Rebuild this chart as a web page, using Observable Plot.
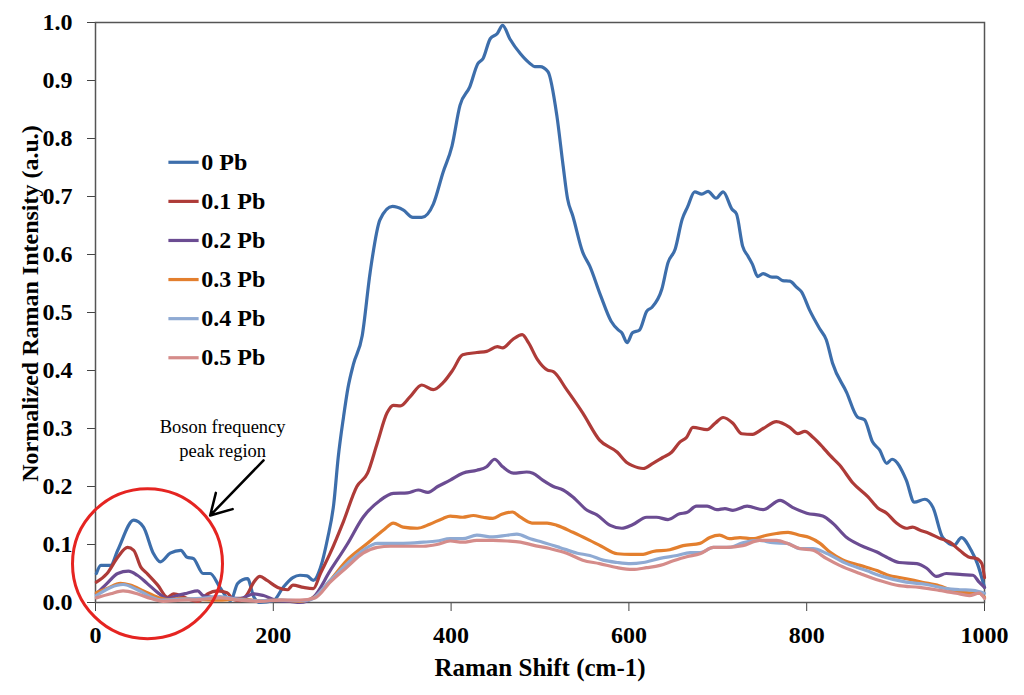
<!DOCTYPE html>
<html><head><meta charset="utf-8">
<script src="https://cdn.jsdelivr.net/npm/d3@7"></script>
<script src="https://cdn.jsdelivr.net/npm/@observablehq/plot@0.6"></script>
<style>body{margin:0;background:#fff}#chart{width:1024px;height:695px}</style>
</head><body><div id="chart"></div>
<script>
const names = ["0 Pb","0.1 Pb","0.2 Pb","0.3 Pb","0.4 Pb","0.5 Pb"];
const colors = ["#3D6EAB","#AE3B38","#6B4C92","#E37F2E","#8FAAD3","#D58C8A"];
const xTicks = [0,200,400,600,800,1000];
const yTicks = [0,0.1,0.2,0.3,0.4,0.5,0.6,0.7,0.8,0.9,1.0];
const xTitle = "Raman Shift (cm-1)";
const yTitle = "Normalized Raman Intensity (a.u.)";
const noteText = "Boson frequency\npeak region";

const pb0 = [[1,0.05],[6,0.064],[17,0.064],[25,0.09],[43,0.142],[54,0.13],[65,0.085],[73,0.07],[84,0.085],[96,0.09],[103,0.078],[110,0.076],[121,0.05],[129,0.05],[140,0.026],[152,0.003],[160,0.033],[171,0.041],[178,0.01],[185,0.0],[200,0.003],[211,0.026],[222,0.043],[230,0.047],[238,0.046],[245,0.038],[253,0.06],[261,0.11],[268,0.17],[273,0.25],[279,0.32],[284,0.37],[290,0.41],[300,0.46],[309,0.57],[320,0.66],[334,0.683],[346,0.677],[357,0.664],[367,0.664],[380,0.687],[391,0.742],[401,0.787],[410,0.857],[421,0.889],[430,0.929],[436,0.938],[444,0.972],[452,0.981],[458,0.995],[466,0.972],[478,0.946],[489,0.929],[494,0.924],[500,0.924],[509,0.915],[519,0.839],[526,0.753],[531,0.696],[537,0.666],[548,0.604],[556,0.58],[568,0.53],[580,0.485],[588,0.47],[592,0.465],[598,0.448],[604,0.465],[612,0.47],[620,0.502],[626,0.509],[637,0.54],[644,0.586],[652,0.609],[660,0.661],[666,0.682],[674,0.708],[682,0.704],[689,0.709],[698,0.697],[706,0.708],[716,0.678],[721,0.67],[728,0.614],[734,0.597],[739,0.583],[745,0.562],[751,0.567],[761,0.561],[766,0.561],[773,0.555],[781,0.554],[789,0.543],[794,0.536],[803,0.505],[815,0.471],[822,0.453],[829,0.413],[845,0.362],[857,0.32],[865,0.315],[874,0.277],[882,0.263],[890,0.24],[896,0.247],[912,0.211],[921,0.173],[933,0.178],[942,0.164],[953,0.112],[966,0.099],[974,0.112],[985,0.09],[992,0.067],[1000,0.026]];
const pb01 = [[1,0.035],[13,0.05],[25,0.078],[36,0.095],[43,0.09],[51,0.061],[58,0.05],[70,0.03],[81,0.009],[88,0.015],[96,0.012],[103,0.007],[115,0.002],[126,0.015],[137,0.02],[148,0.017],[155,0.005],[163,0.003],[171,0.015],[178,0.035],[185,0.045],[193,0.038],[205,0.026],[216,0.022],[222,0.03],[234,0.026],[245,0.024],[253,0.05],[264,0.085],[279,0.14],[294,0.2],[306,0.223],[317,0.275],[328,0.327],[335,0.34],[343,0.339],[354,0.355],[367,0.375],[380,0.367],[391,0.379],[402,0.401],[413,0.427],[429,0.431],[440,0.433],[452,0.441],[458,0.439],[469,0.453],[480,0.462],[487,0.448],[497,0.419],[508,0.401],[515,0.398],[530,0.367],[548,0.327],[567,0.28],[587,0.259],[598,0.241],[604,0.236],[616,0.231],[627,0.24],[638,0.25],[648,0.259],[657,0.276],[665,0.285],[672,0.302],[688,0.298],[697,0.309],[706,0.319],[717,0.309],[727,0.291],[739,0.29],[751,0.3],[766,0.312],[781,0.302],[790,0.291],[798,0.295],[807,0.285],[818,0.268],[826,0.254],[837,0.237],[852,0.206],[869,0.182],[880,0.163],[890,0.154],[901,0.137],[912,0.128],[919,0.13],[927,0.125],[938,0.119],[949,0.111],[961,0.104],[972,0.09],[983,0.078],[991,0.076],[997,0.067],[1000,0.043]];
const pb02 = [[1,0.015],[13,0.033],[25,0.05],[37,0.054],[47,0.047],[58,0.033],[70,0.017],[81,0.007],[92,0.012],[103,0.016],[115,0.02],[121,0.012],[133,0.009],[148,0.008],[163,0.007],[178,0.015],[189,0.012],[205,0.003],[219,0.002],[230,0.0],[245,0.009],[264,0.055],[283,0.1],[301,0.147],[320,0.176],[335,0.188],[351,0.189],[363,0.194],[374,0.19],[385,0.2],[399,0.211],[413,0.223],[429,0.228],[440,0.234],[449,0.247],[458,0.234],[470,0.223],[485,0.225],[492,0.223],[503,0.211],[515,0.2],[526,0.194],[537,0.182],[553,0.159],[564,0.151],[579,0.133],[592,0.128],[604,0.134],[620,0.147],[631,0.147],[644,0.143],[657,0.153],[665,0.155],[676,0.166],[688,0.166],[699,0.16],[708,0.162],[717,0.159],[733,0.166],[751,0.16],[770,0.176],[784,0.164],[800,0.154],[818,0.149],[829,0.137],[845,0.112],[860,0.099],[879,0.087],[890,0.078],[904,0.069],[924,0.067],[935,0.059],[946,0.045],[957,0.05],[975,0.048],[987,0.047],[994,0.035],[1000,0.026]];
const pb03 = [[1,0.017],[13,0.024],[28,0.033],[39,0.03],[54,0.02],[70,0.009],[81,0.005],[96,0.007],[118,0.005],[137,0.004],[163,0.006],[185,0.003],[208,0.004],[230,0.002],[249,0.012],[264,0.038],[283,0.073],[306,0.102],[324,0.125],[335,0.137],[346,0.13],[362,0.128],[376,0.135],[391,0.145],[399,0.149],[413,0.147],[425,0.15],[436,0.147],[447,0.145],[457,0.152],[469,0.156],[478,0.147],[491,0.137],[508,0.137],[519,0.133],[537,0.121],[556,0.107],[569,0.097],[587,0.084],[602,0.083],[616,0.083],[627,0.088],[646,0.091],[661,0.098],[680,0.102],[691,0.112],[702,0.116],[713,0.11],[725,0.112],[739,0.11],[755,0.116],[766,0.119],[779,0.121],[792,0.116],[803,0.112],[815,0.102],[826,0.087],[840,0.074],[860,0.064],[879,0.055],[890,0.048],[912,0.041],[930,0.035],[949,0.029],[964,0.021],[980,0.017],[994,0.016],[1000,0.009]];
const pb04 = [[1,0.012],[17,0.026],[31,0.031],[47,0.022],[62,0.01],[76,0.004],[96,0.006],[118,0.007],[140,0.01],[163,0.005],[185,0.003],[208,0.004],[230,0.003],[242,0.005],[264,0.038],[283,0.067],[301,0.09],[317,0.102],[332,0.102],[346,0.102],[369,0.104],[384,0.106],[399,0.11],[413,0.11],[429,0.116],[447,0.113],[463,0.116],[474,0.118],[489,0.11],[503,0.104],[522,0.095],[542,0.085],[556,0.081],[571,0.073],[587,0.069],[602,0.067],[616,0.069],[635,0.076],[654,0.081],[669,0.086],[680,0.086],[695,0.095],[713,0.095],[728,0.103],[747,0.107],[762,0.103],[778,0.102],[792,0.093],[807,0.093],[822,0.085],[845,0.067],[867,0.055],[885,0.045],[912,0.035],[935,0.031],[957,0.024],[972,0.022],[987,0.021],[1000,0.016]];
const pb05 = [[1,0.008],[17,0.015],[31,0.02],[47,0.015],[62,0.007],[76,0.002],[96,0.004],[118,0.005],[140,0.008],[163,0.004],[185,0.002],[208,0.004],[230,0.004],[247,0.008],[264,0.035],[283,0.061],[301,0.085],[317,0.095],[332,0.097],[346,0.097],[369,0.097],[384,0.1],[399,0.106],[413,0.104],[429,0.107],[447,0.107],[463,0.106],[478,0.104],[492,0.099],[511,0.093],[530,0.085],[548,0.073],[567,0.067],[587,0.06],[604,0.057],[620,0.06],[635,0.064],[650,0.072],[665,0.079],[680,0.084],[695,0.095],[710,0.095],[728,0.098],[747,0.107],[766,0.107],[778,0.102],[792,0.093],[807,0.09],[822,0.076],[837,0.064],[860,0.05],[882,0.038],[904,0.029],[927,0.026],[949,0.021],[968,0.016],[983,0.012],[994,0.016],[1000,0.007]];

const seriesData = [pb0, pb01, pb02, pb03, pb04, pb05];
const rows = seriesData.flatMap((s, i) => s.map(([x, y]) => ({series: names[i], x, y})));

// layout (legend, annotation) in data units
const legendRows = names.map((n, i) => ({name: n, y: 0.759 - i * 0.0674}));

const chart = Plot.plot({
  width: 1024, height: 695,
  marginLeft: 95, marginRight: 40, marginTop: 22, marginBottom: 93,
  style: {fontFamily: "'Liberation Serif','Times New Roman',serif", fontSize: "24px", fontWeight: "bold", background: "#fff", overflow: "visible", color: "#000"},
  x: {domain: [0, 1000]},
  y: {domain: [0, 1]},
  color: {domain: names, range: colors},
  marks: [
    Plot.axisX({ticks: xTicks, tickSize: 9, tickPadding: 14, tickFormat: "d", label: null, stroke: "#444"}),
    Plot.axisY({ticks: yTicks, tickSize: 8, tickPadding: 15, tickFormat: ".1f", label: null, stroke: "#444"}),
    Plot.frame({stroke: "#555", strokeWidth: 1.5}),
    Plot.line(rows, {x: "x", y: "y", z: "series", stroke: "series", strokeWidth: 3.2, curve: "monotone-x"}),
    Plot.link(legendRows, {x1: 82, x2: 116, y1: "y", y2: "y", stroke: "name", strokeWidth: 3.2}),
    Plot.text(legendRows, {x: 119, y: "y", text: "name", textAnchor: "start", fontSize: 24, fill: "#000"}),
    Plot.dot([{x: 58.5, y: 0.067}], {x: "x", y: "y", r: 75, stroke: "#E52421", strokeWidth: 3, fill: "none"}),
    Plot.arrow([{x1: 189, y1: 0.245, x2: 129, y2: 0.15}], {x1: "x1", y1: "y1", x2: "x2", y2: "y2", stroke: "#000", strokeWidth: 2.5, headLength: 14}),
    Plot.text([noteText], {x: 143, y: 0.284, text: d => d, fontSize: 18.5, fontWeight: "normal", lineHeight: 1.3, lineAnchor: "middle", fill: "#000"}),
    Plot.text([xTitle], {frameAnchor: "bottom", dy: 65, text: d => d, fontSize: 25, lineAnchor: "middle", fill: "#000"}),
    Plot.text([yTitle], {frameAnchor: "left", dx: -65, dy: -9, rotate: -90, text: d => d, fontSize: 24, textAnchor: "middle", lineAnchor: "middle", fill: "#000"})
  ]
});
document.getElementById("chart").appendChild(chart);
</script>
</body></html>
